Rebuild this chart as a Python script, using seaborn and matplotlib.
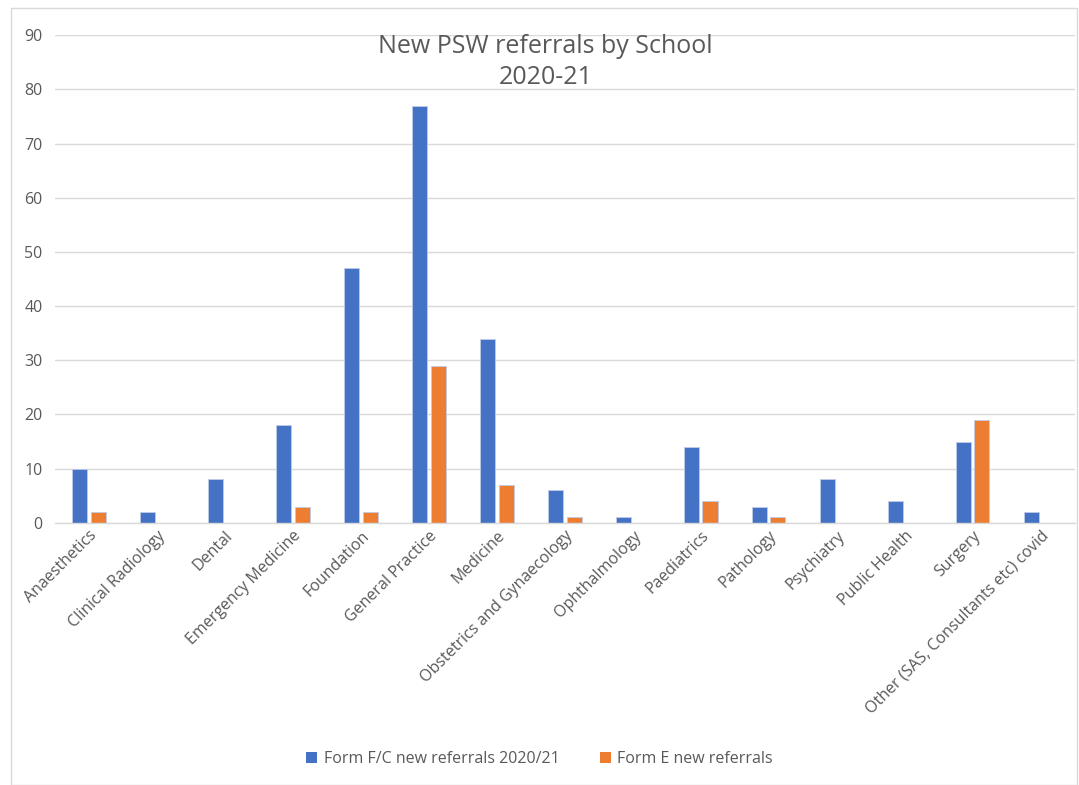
import matplotlib
matplotlib.use("Agg")
import matplotlib.pyplot as plt
import seaborn as sns
import pandas as pd
from matplotlib.patches import Patch, Rectangle

categories = ["Anaesthetics", "Clinical Radiology", "Dental", "Emergency Medicine",
              "Foundation", "General Practice", "Medicine", "Obstetrics and Gynaecology",
              "Ophthalmology", "Paediatrics", "Pathology", "Psychiatry", "Public Health",
              "Surgery", "Other (SAS, Consultants etc) covid"]
form_fc = [10, 2, 8, 18, 47, 77, 34, 6, 1, 14, 3, 8, 4, 15, 2]
form_e = [2, 0, 0, 3, 2, 29, 7, 1, 0, 4, 1, 0, 0, 19, 0]
series_names = ["Form F/C new referrals 2020/21", "Form E new referrals"]
colors = ["#4472C4", "#ED7D31"]
yticks = [0, 10, 20, 30, 40, 50, 60, 70, 80, 90]

df = pd.DataFrame({
    "School": categories * 2,
    "Value": form_fc + form_e,
    "Series": [series_names[0]] * len(categories) + [series_names[1]] * len(categories),
})

sns.set_style("white")
plt.rcParams['font.family'] = ['Open Sans', 'DejaVu Sans']

fig = plt.figure(figsize=(10.79, 7.85), dpi=100)
ax = fig.add_axes([0.051, 0.334, 0.945, 0.621])

sns.barplot(data=df, x="School", y="Value", hue="Series", palette=colors,
            width=0.54, gap=0.18, ax=ax, legend=False, saturation=1,
            edgecolor="#BFCCE8", linewidth=0.6)

ax.set_ylim(0, 90)
ax.set_xlim(-0.5, len(categories) - 0.5)
ax.set_yticks(yticks)
ax.yaxis.grid(True, color="#D9D9D9", linewidth=1)
ax.set_axisbelow(True)
for s in ["top", "right", "left"]:
    ax.spines[s].set_visible(False)
ax.spines["bottom"].set_color("#D9D9D9")
ax.spines["bottom"].set_linewidth(1)
ax.tick_params(axis="both", length=0, colors="#595959", labelsize=11.5)
ax.tick_params(axis="y", pad=9)
ax.set_xticks(range(len(categories)))
ax.set_xticklabels(categories, rotation=45, ha="right", rotation_mode="anchor")
ax.set_xlabel("")
ax.set_ylabel("")

ax.text(0.481, 1.003, "New PSW referrals by School\n2020-21", transform=ax.transAxes,
        ha="center", va="top", fontsize=18, color="#595959", linespacing=1.3)

handles = [Patch(facecolor=c, edgecolor="none") for c in colors]
fig.legend(handles, series_names, loc="center", bbox_to_anchor=(0.5, 0.033), ncol=2,
           frameon=False, fontsize=11.5, labelcolor="#595959", handlelength=0.7,
           handleheight=0.7, columnspacing=2.5, handletextpad=0.4)

fig.patches.append(Rectangle((0.010, 0.0), 0.988, 0.99, transform=fig.transFigure,
                             fill=False, edgecolor="#D9D9D9", linewidth=1))

fig.savefig("out.png", dpi=100)
